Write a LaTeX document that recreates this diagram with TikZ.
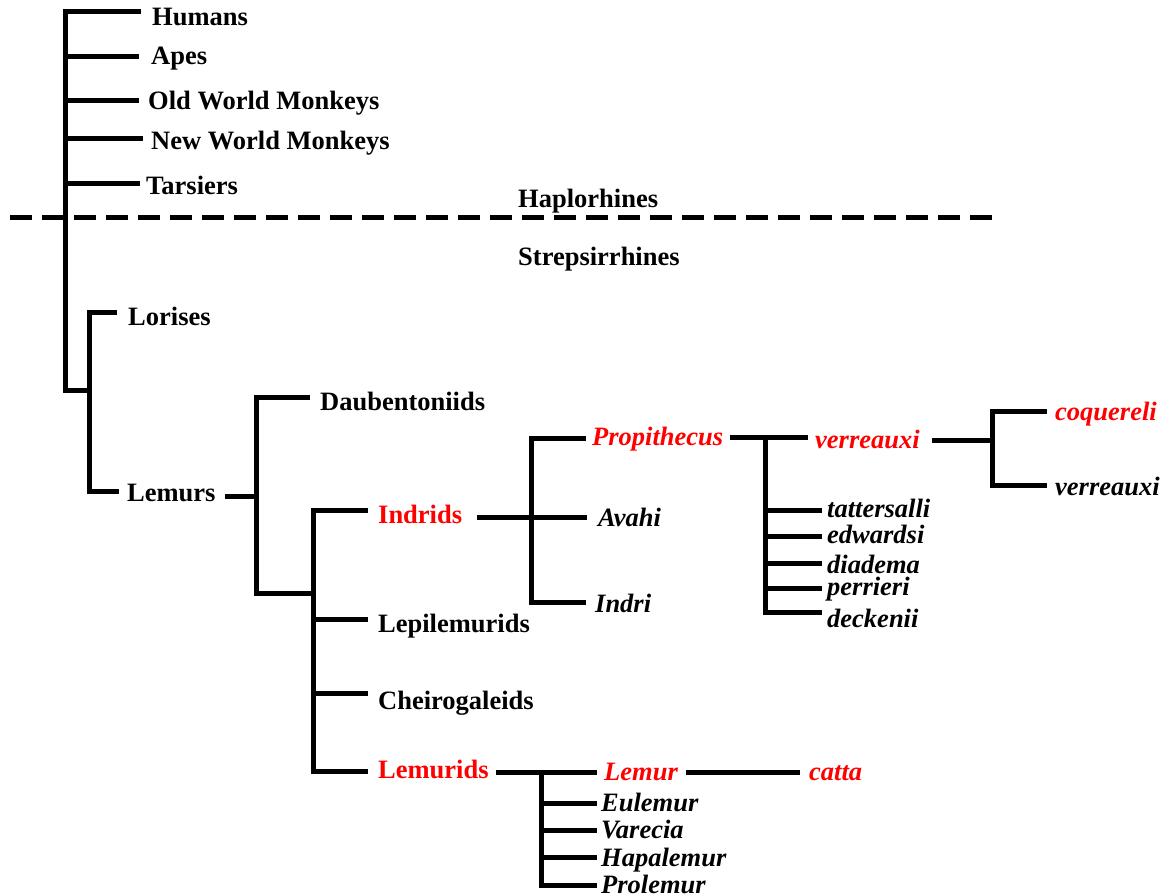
\documentclass[tikz,border=0pt]{standalone}
\usepackage{fontspec}
\setmainfont{Liberation Serif}
\begin{document}
\begin{tikzpicture}[x=1pt,y=-1pt,
  br/.style={line width=5pt, line join=miter},
  lab/.style={anchor=base west, inner sep=0pt, font=\fontsize{26.5}{30}\selectfont\bfseries},
  ilab/.style={lab, font=\fontsize{26.5}{30}\selectfont\bfseries\itshape},
  hl/.style={text=red}]
\useasboundingbox (0,0) rectangle (1168,896);
% labels
\node[lab] (hum) at (152,26) {Humans};
\node[lab] (ape) at (151,65) {Apes};
\node[lab] (owm) at (148,110) {Old World Monkeys};
\node[lab] (nwm) at (151,150) {New World Monkeys};
\node[lab] (tar) at (146,195) {Tarsiers};
\node[lab] (hap) at (518,208) {Haplorhines};
\node[lab] (str) at (518,266) {Strepsirrhines};
\node[lab] (lor) at (128,326) {Lorises};
\node[lab] (lem) at (127,501) {Lemurs};
\node[lab] (dau) at (320,410) {Daubentoniids};
\node[lab,hl] (ind) at (378,523) {Indrids};
\node[lab] (lep) at (378,632) {Lepilemurids};
\node[lab] (che) at (378,709) {Cheirogaleids};
\node[lab,hl] (lmd) at (378,778) {Lemurids};
\node[ilab,hl] (pro) at (592,445) {Propithecus};
\node[ilab] (ava) at (598,526) {Avahi};
\node[ilab] (inr) at (595,612) {Indri};
\node[ilab,hl] (ver) at (815,448) {verreauxi};
\node[ilab] (tat) at (827,517) {tattersalli};
\node[ilab] (edw) at (827,543) {edwardsi};
\node[ilab] (dia) at (827,573) {diadema};
\node[ilab] (per) at (827,595) {perrieri};
\node[ilab] (dec) at (827,627) {deckenii};
\node[ilab,hl] (coq) at (1055,420) {coquereli};
\node[ilab] (ve2) at (1055,495) {verreauxi};
\node[ilab,hl] (lmr) at (604,780) {Lemur};
\node[ilab,hl] (cat) at (809,780) {catta};
\node[ilab] (eul) at (601,811) {Eulemur};
\node[ilab] (var) at (601,838) {Varecia};
\node[ilab] (hpl) at (601,866) {Hapalemur};
\node[ilab] (prl) at (601,893) {Prolemur};
% divider
\coordinate (dl) at (10,218);
\coordinate (dr) at (993,218);
\draw[line width=5pt, dash pattern=on 22pt off 10pt] (dl) -- (dr);
% primates
\coordinate (root) at (65,390);
\draw[br] (141,12) -- (65,12) -- (root) -- (89,390);
\foreach \y/\e in {57/139,101/139,139/143,184/140} \draw[br] (65,\y) -- (\e,\y);
% strepsirrhines
\draw[br] (117,312) -- (89,312) -- (89,491) -- (119,491);
\draw[br] (225,496) -- (256,496);
\draw[br] (310,397) -- (256,397) -- (256,593) -- (313,593);
\draw[br] (368,510) -- (313,510) -- (313,771) -- (368,771);
\foreach \y in {619,693} \draw[br] (313,\y) -- (368,\y);
% indrids
\draw[br] (477,517) -- (587,517);
\draw[br] (586,438) -- (531,438) -- (531,602) -- (586,602);
% propithecus
\draw[br] (730,437) -- (808,437);
\draw[br] (765,437) -- (765,612) -- (822,612);
\foreach \y in {510,536,563,588} \draw[br] (765,\y) -- (822,\y);
% verreauxi
\draw[br] (932,440) -- (992,440);
\draw[br] (1047,411) -- (992,411) -- (992,485) -- (1047,485);
% lemurids
\draw[br] (496,772) -- (597,772);
\draw[br] (541,775) -- (541,885) -- (597,885);
\foreach \y in {803,830,857} \draw[br] (541,\y) -- (597,\y);
\draw[br] (686,772) -- (800,772);
\end{tikzpicture}
\end{document}
